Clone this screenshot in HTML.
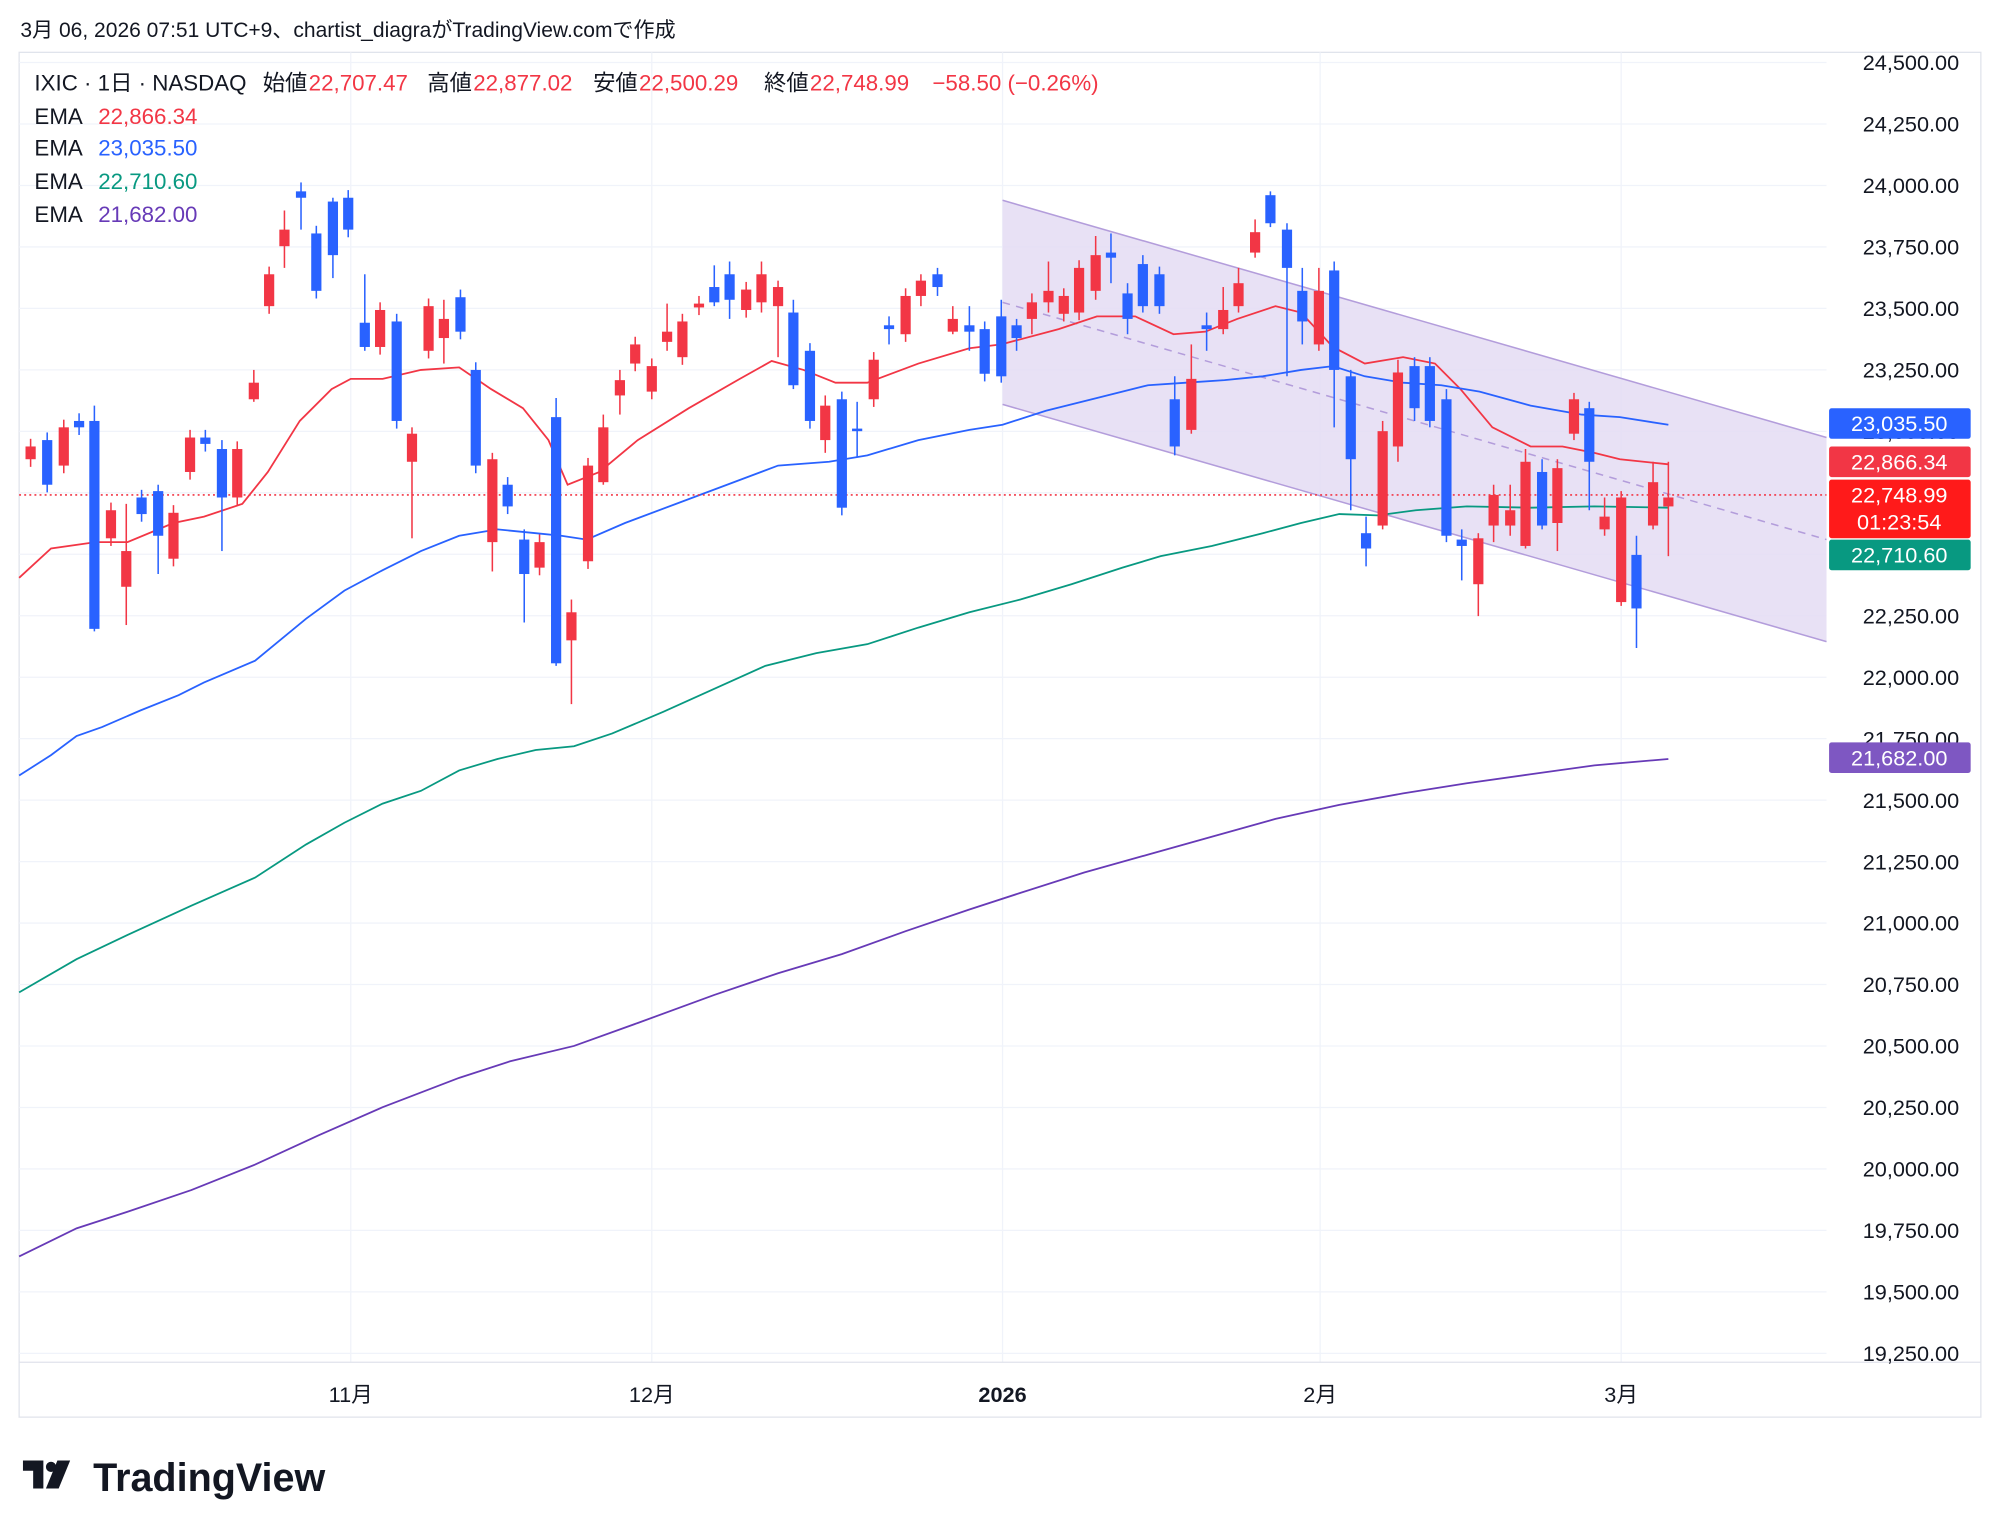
<!DOCTYPE html>
<html><head><meta charset="utf-8">
<style>
html,body{margin:0;padding:0;background:#fff;}
svg{display:block;}
text{font-family:"Liberation Sans","Noto Sans CJK JP",sans-serif;}
</style></head>
<body>
<svg id="c" width="2000" height="1534" viewBox="0 0 1568 1202.6" xmlns="http://www.w3.org/2000/svg">
<rect width="1568" height="1203" fill="#fff"/>
<text x="16" y="29" font-size="16.5" fill="#131722">3月 06, 2026 07:51 UTC+9、chartist_diagraがTradingView.comで作成</text>
<rect x="15" y="41" width="1538" height="1070" fill="none" stroke="#e0e3eb" stroke-width="1"/>
<g id="grid" stroke="#f0f3fa" stroke-width="1"></g>
<polygon points="786,157 1432,343 1432,503 786,317" fill="#e4dcf3" fill-opacity="0.85"/>
<line x1="786" y1="157" x2="1432" y2="343" stroke="#b39ddb" stroke-width="1.2"/>
<line x1="786" y1="317" x2="1432" y2="503" stroke="#b39ddb" stroke-width="1.2"/>
<line x1="786" y1="237" x2="1432" y2="423" stroke="#b39ddb" stroke-width="1.2" stroke-dasharray="6,5"/>
<g id="ema" fill="none" stroke-width="1.4"></g>
<line x1="15" y1="388" x2="1432" y2="388" stroke="#f23645" stroke-width="1.2" stroke-dasharray="1.5,2.5"/>
<g id="candles"></g>
<g id="axis" font-size="17" fill="#131722" text-anchor="end"></g>
<g font-size="17" fill="#131722" text-anchor="middle">
<text x="275" y="1099">11月</text><text x="511" y="1099">12月</text>
<text x="786" y="1099" font-weight="bold">2026</text><text x="1035" y="1099">2月</text><text x="1271" y="1099">3月</text>
</g>
<g font-size="17.5">
<text y="71" fill="#131722"><tspan x="27">IXIC · 1日 · NASDAQ</tspan><tspan x="206">始値</tspan><tspan x="242" fill="#f23645">22,707.47</tspan><tspan x="335">高値</tspan><tspan x="371" fill="#f23645">22,877.02</tspan><tspan x="465">安値</tspan><tspan x="501" fill="#f23645">22,500.29</tspan><tspan x="599">終値</tspan><tspan x="635" fill="#f23645">22,748.99</tspan><tspan x="731" fill="#f23645">−58.50 (−0.26%)</tspan></text>
<text y="97" fill="#131722"><tspan x="27">EMA</tspan><tspan x="77" fill="#f23645">22,866.34</tspan></text>
<text y="122" fill="#131722"><tspan x="27">EMA</tspan><tspan x="77" fill="#2962ff">23,035.50</tspan></text>
<text y="148" fill="#131722"><tspan x="27">EMA</tspan><tspan x="77" fill="#089981">22,710.60</tspan></text>
<text y="174" fill="#131722"><tspan x="27">EMA</tspan><tspan x="77" fill="#673ab7">21,682.00</tspan></text>
</g>
<g font-size="17" fill="#fff" text-anchor="middle">
<rect x="1434" y="320" width="111" height="24" rx="2" fill="#2962ff"/><text x="1489" y="338">23,035.50</text>
<rect x="1434" y="350" width="111" height="24" rx="2" fill="#f23645"/><text x="1489" y="368">22,866.34</text>
<rect x="1434" y="376" width="111" height="46" rx="2" fill="#ff1a1a"/><text x="1489" y="394">22,748.99</text><text x="1489" y="415">01:23:54</text>
<rect x="1434" y="423" width="111" height="24" rx="2" fill="#089981"/><text x="1489" y="441">22,710.60</text>
<rect x="1434" y="582" width="111" height="24" rx="2" fill="#7e57c2"/><text x="1489" y="600">21,682.00</text>
</g>
<g transform="translate(18,1145)">
<path d="M0 0 H16 V22 H8 V8 H0 Z M18 22 L27 0 H37 L28 22 Z" fill="#131722"/>
<circle cx="22" cy="5" r="4" fill="#131722"/>
<text x="55" y="24" font-size="31" font-weight="bold" fill="#131722">TradingView</text>
</g>
</svg>
<script>
var NS="http://www.w3.org/2000/svg";
function el(p,t,a){var e=document.createElementNS(NS,t);for(var k in a)e.setAttribute(k,a[k]);p.appendChild(e);return e;}
var g=document.getElementById("grid"),ax=document.getElementById("axis");
for(var i=0;i<=21;i++){var y=49+i*48.19;var p=24500-i*250;
 el(g,"line",{x1:15,y1:y,x2:1432,y2:y});
 var t=el(ax,"text",{x:1536,y:y+6});t.textContent=p.toLocaleString("en-US",{minimumFractionDigits:2});}
[275,511,786,1035,1271].forEach(function(x){el(g,"line",{x1:x,y1:41,x2:x,y2:1068});});
el(g,"line",{x1:15,y1:1068,x2:1553,y2:1068,stroke:"#e0e3eb"});
var E=document.getElementById("ema");
function pl(pts,c){el(E,"polyline",{points:pts,stroke:c});}
pl("15,453 40,430 75,425 100,425 136,410 160,405 190,395 210,370 235,330 260,305 275,297 300,297 330,290 360,288 385,305 410,320 430,345 445,380 470,370 500,345 540,320 580,297 605,283 630,290 655,300 680,300 720,285 760,273 785,270 830,258 860,248 890,248 920,262 945,260 970,250 1000,240 1020,245 1045,272 1070,285 1100,280 1125,285 1145,305 1170,335 1200,350 1225,350 1250,355 1270,360 1308,364","#f23645");
pl("15,608 40,592 60,577 80,570 110,557 140,545 160,535 200,518 240,485 270,463 300,447 330,432 360,420 390,415 420,418 440,420 460,423 490,410 530,395 570,380 610,365 650,362 680,357 720,345 760,337 786,333 820,322 860,312 900,302 930,300 960,298 990,295 1020,290 1045,287 1070,295 1100,300 1130,302 1160,307 1200,318 1240,325 1270,327 1308,333","#2962ff");
pl("15,778 60,752 100,733 150,710 200,688 240,662 270,645 300,630 330,620 360,604 390,595 420,588 450,585 480,575 520,558 560,540 600,522 640,512 680,505 720,492 760,480 800,470 840,458 880,445 910,436 950,428 990,418 1020,410 1050,403 1080,404 1110,400 1150,397 1200,398 1250,397 1308,398","#089981");
pl("15,985 60,963 100,950 150,933 200,913 250,890 300,868 360,845 400,832 450,820 500,802 560,780 610,763 660,748 710,730 760,713 800,700 850,684 900,670 950,656 1000,642 1050,631 1100,622 1150,614 1200,607 1250,600 1308,595","#673ab7");
var D=[[24,"r",350,360],[37,"b",345,380],[50,"r",335,365],[62,"b",330,335],[74,"b",330,493,318,495],[87,"r",400,422],[99,"r",432,460,395,490],[111,"b",390,403],[124,"b",385,420,380,450],[136,"r",402,438],[149,"r",343,370],[161,"b",343,348],[174,"b",352,390,345,432],[186,"r",352,390],[199,"r",300,313,290,315],[211,"r",215,240],[223,"r",180,193,165,210],[236,"b",150,155,143,180],[248,"b",183,228],[261,"b",158,200,155,218],[273,"b",155,180],[286,"b",253,272,215,275],[298,"r",243,272],[311,"b",252,330],[323,"r",340,362,335,422],[336,"r",240,275],[348,"r",250,265,235,285],[361,"b",233,260],[373,"b",290,365],[386,"r",360,425,355,448],[398,"b",380,397],[411,"b",423,450,415,488],[423,"r",425,445],[436,"b",327,520,312,522],[448,"r",480,502,470,552],[461,"r",365,440],[473,"r",335,378,325,380],[486,"r",298,310,290,325],[498,"r",270,285],[511,"r",287,307],[523,"r",260,268,238,275],[535,"r",252,280],[548,"r",238,241],[560,"b",225,237,208,240],[572,"b",215,235,205,250],[585,"r",227,243],[597,"r",215,237,205,245],[610,"r",225,240,220,280],[622,"b",245,302,235,305],[635,"b",275,330],[647,"r",318,345,310,355],[660,"b",313,398],[672,"b",336,338,315,358],[685,"r",282,313],[697,"b",255,258,248,270],[710,"r",232,262],[722,"r",220,232,215,240],[735,"b",215,225,210,232],[747,"r",250,260,240,262],[760,"b",255,260,240,275],[772,"b",258,293],[785,"b",248,295,235,300],[797,"b",255,265,250,275],[809,"r",237,250,230,262],[822,"r",228,237,205,245],[834,"r",232,246],[846,"r",210,245],[859,"r",200,228,185,235],[871,"b",198,202,183,222],[884,"b",230,250,222,262],[896,"b",207,240,200,245],[909,"b",215,240],[921,"b",313,350,295,357],[934,"r",297,337,270,340],[946,"b",255,258,245,275],[959,"r",243,258,225,262],[971,"r",222,240,210,245],[984,"r",182,198,172,202],[996,"b",153,175,150,178],[1009,"b",180,210,175,295],[1021,"b",228,252,210,270],[1034,"r",228,270,210,275],[1046,"b",212,290,205,335],[1059,"b",295,360,290,400],[1071,"b",418,430,405,444],[1084,"r",338,412,330,415],[1096,"r",292,350,282,362],[1109,"b",287,320,280,330],[1121,"b",287,330,280,335],[1134,"b",313,420,305,425],[1146,"b",423,428,415,455],[1159,"r",422,458,418,483],[1171,"r",388,412,380,425],[1184,"r",400,412,380,420],[1196,"r",362,428,352,430],[1209,"b",370,412,360,415],[1221,"r",367,410,360,432],[1234,"r",313,340,308,345],[1246,"b",320,362,315,400],[1258,"r",405,415,390,420],[1271,"r",390,472,385,475],[1283,"b",435,477,420,508],[1296,"r",378,412,362,415],[1308,"r",390,397,362,436]];
var C=document.getElementById("candles");
D.forEach(function(d){var col=d[1]=="r"?"#f23645":"#2962ff";var t=d[2],b=d[3];var hi=d.length>4?d[4]:t-6,lo=d.length>4?d[5]:b+6;
 el(C,"line",{x1:d[0],y1:hi,x2:d[0],y2:lo,stroke:col,"stroke-width":1.2});
 el(C,"rect",{x:d[0]-4,y:t,width:8,height:Math.max(b-t,1.5),fill:col});});
</script>
</body></html>
